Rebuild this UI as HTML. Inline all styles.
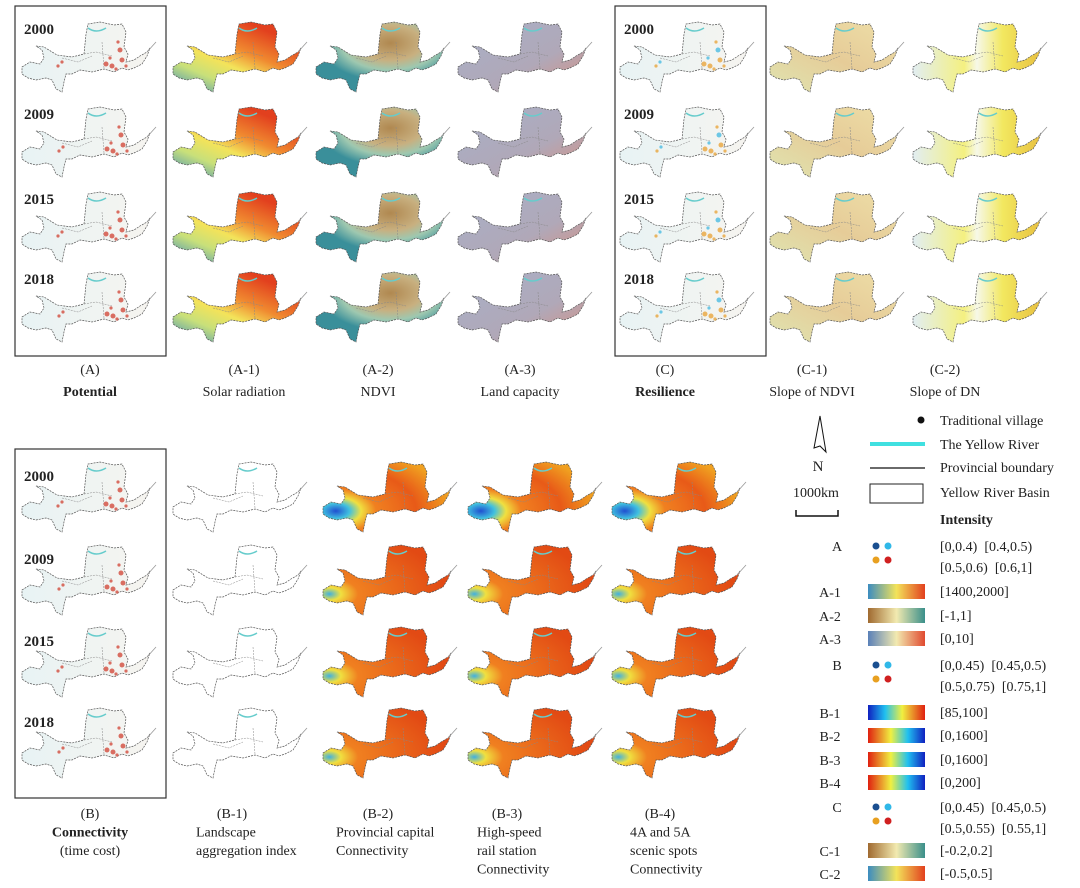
<!DOCTYPE html>
<html><head><meta charset="utf-8"><style>
html,body{margin:0;padding:0;background:#fff;}
svg{display:block;font-family:"Liberation Serif",serif;}
text{white-space:pre;}
</style></head><body>
<svg id="fig" width="1080" height="888" viewBox="0 0 1080 888" xmlns="http://www.w3.org/2000/svg">
<defs>
<path id="basin" d="M0,45 L8,40 L18,42 L22,36 L20,28 L14,24 L22,25 L35,33 L50,35 L62,32 L64,12 L66,2 L78,0 L92,3 L100,2 L104,10 L102,25 L106,32 L104,40 L112,38 L118,34 L125,30 L128,26 L125,34 L120,42 L112,46 L106,48 L100,46 L92,50 L82,47 L70,50 L58,48 L50,52 L44,52 L42,60 L40,70 L34,67 L30,58 L24,56 L14,58 L6,56 L0,52 Z"/>
<linearGradient id="gA1" x1="0" y1="1" x2="0.7" y2="0.1"><stop offset="0" stop-color="#3b8cc0"/><stop offset="0.3" stop-color="#c8e07a"/><stop offset="0.5" stop-color="#f3e35a"/><stop offset="0.7" stop-color="#f08a30"/><stop offset="1" stop-color="#e2401e"/></linearGradient>
<radialGradient id="gA2" cx="0.58" cy="0.3" r="0.55"><stop offset="0" stop-color="#b08850"/><stop offset="0.45" stop-color="#c8b080"/><stop offset="0.7" stop-color="#9ec8b0"/><stop offset="1" stop-color="#3a8f9a"/></radialGradient>
<linearGradient id="gA3" x1="0" y1="0" x2="1" y2="1"><stop offset="0" stop-color="#a8b0c8"/><stop offset="0.6" stop-color="#b0a8b8"/><stop offset="1" stop-color="#d89080"/></linearGradient>
<linearGradient id="gC1" x1="0" y1="1" x2="1" y2="0"><stop offset="0" stop-color="#dfe4b0"/><stop offset="0.5" stop-color="#e6cc98"/><stop offset="1" stop-color="#eedfa8"/></linearGradient>
<linearGradient id="gC2" x1="0" y1="0" x2="1" y2="0"><stop offset="0" stop-color="#e2eef2"/><stop offset="0.4" stop-color="#f4f080"/><stop offset="0.5" stop-color="#f6f8e8"/><stop offset="0.7" stop-color="#f2e860"/><stop offset="1" stop-color="#e8c040"/></linearGradient>
<radialGradient id="gB2" cx="0.1" cy="0.7" r="0.9"><stop offset="0" stop-color="#2050d0"/><stop offset="0.12" stop-color="#40c0e0"/><stop offset="0.22" stop-color="#f0e040"/><stop offset="0.35" stop-color="#f08020"/><stop offset="0.7" stop-color="#e85a18"/><stop offset="1" stop-color="#f0a020"/></radialGradient>
<radialGradient id="gB2b" cx="0.05" cy="0.7" r="0.9"><stop offset="0" stop-color="#40b0e0"/><stop offset="0.1" stop-color="#f0e040"/><stop offset="0.25" stop-color="#f08020"/><stop offset="1" stop-color="#e24a14"/></radialGradient>
<linearGradient id="gW" x1="0" y1="0" x2="1" y2="0"><stop offset="0" stop-color="#e8f3f4"/><stop offset="1" stop-color="#f6f4f0"/></linearGradient>
<linearGradient id="lA1" x1="0" x2="1"><stop offset="0" stop-color="#3b8cc0"/><stop offset="0.5" stop-color="#f3e35a"/><stop offset="1" stop-color="#e2401e"/></linearGradient>
<linearGradient id="lA2" x1="0" x2="1"><stop offset="0" stop-color="#a06a30"/><stop offset="0.5" stop-color="#f2eab0"/><stop offset="1" stop-color="#3a8f8a"/></linearGradient>
<linearGradient id="lA3" x1="0" x2="1"><stop offset="0" stop-color="#5a80b8"/><stop offset="0.5" stop-color="#f2eab0"/><stop offset="1" stop-color="#e04a30"/></linearGradient>
<linearGradient id="lB1" x1="0" x2="1"><stop offset="0" stop-color="#1020c0"/><stop offset="0.3" stop-color="#20c0f0"/><stop offset="0.6" stop-color="#f0f040"/><stop offset="1" stop-color="#e02010"/></linearGradient>
<linearGradient id="lB2" x1="1" x2="0"><stop offset="0" stop-color="#1020c0"/><stop offset="0.3" stop-color="#20c0f0"/><stop offset="0.6" stop-color="#f0f040"/><stop offset="1" stop-color="#e02010"/></linearGradient>
</defs>
<g id="maps"></g>
<g id="texts"></g>
<g id="legend"></g>
</svg>
<script>
const NS="http://www.w3.org/2000/svg";
const years=["2000","2009","2015","2018"];
const topCols=[{id:"A",x:22,f:"url(#gW)",d:"red"},{id:"A-1",x:173,f:"url(#gA1)"},{id:"A-2",x:316,f:"url(#gA2)"},{id:"A-3",x:458,f:"url(#gA3)"},{id:"C",x:620,f:"url(#gW)",d:"orange"},{id:"C-1",x:770,f:"url(#gC1)"},{id:"C-2",x:913,f:"url(#gC2)"}];
const topRows=[22,107,192,272];
const botCols=[{id:"B",x:22,f:"url(#gW)",d:"red"},{id:"B-1",x:173,f:"#fff"},{id:"B-2",x:323,f:"url(#gB2)",alt:"url(#gB2b)"},{id:"B-3",x:468,f:"url(#gB2)",alt:"url(#gB2b)"},{id:"B-4",x:612,f:"url(#gB2)",alt:"url(#gB2b)"}];
const botRows=[462,545,627,708];
const topLabels=[["(A)","Potential"],["(A-1)","Solar radiation"],["(A-2)","NDVI"],["(A-3)","Land capacity"],["(C)","Resilience"],["(C-1)","Slope of NDVI"],["(C-2)","Slope of DN"]];
const topLabelX=[90,244,378,520,665,812,945];
const botLabels=[["(B)","Connectivity","(time cost)"],["(B-1)","Landscape","aggregation index"],["(B-2)","Provincial capital","Connectivity"],["(B-3)","High-speed","rail station","Connectivity"],["(B-4)","4A and 5A","scenic spots","Connectivity"]];
const botLabelX=[90,232,378,507,660];
const botLabelLeft=[null,196,336,477,630];
const hot=[[100,38],[98,28],[90,44],[84,42],[40,40],[96,20],[104,44],[88,36],[36,44],[94,47]];
const maps=document.getElementById('maps'),texts=document.getElementById('texts'),leg=document.getElementById('legend');
function mk(t,a,p){const e=document.createElementNS(NS,t);for(const k in a)e.setAttribute(k,a[k]);(p||maps).appendChild(e);return e;}
function txt(s,x,y,o,p){o=o||{};const e=mk('text',{x:x,y:y,'font-size':o.fs||14,'text-anchor':o.a||'middle','font-weight':o.b?'bold':'normal',fill:'#222'},p||texts);e.textContent=s;return e;}
function drawMap(c,x,y,ri){
  const g=mk('g',{transform:`translate(${x},${y})`});
  
  
  mk('use',{href:'#basin',fill:(ri>0&&c.alt)?c.alt:c.f,stroke:'#555','stroke-width':0.7,'stroke-dasharray':'2,1'},g);
  mk('path',{d:'M125,30 L134,20',stroke:'#999','stroke-width':0.8},g);
  mk('path',{d:'M40,36 L56,40 L70,34 M80,20 L82,46 M62,32 L74,30 L90,34',stroke:'#888',fill:'none','stroke-width':0.5,'stroke-dasharray':'2,1'},g);
  mk('path',{d:'M66,6 Q74,12 84,6',stroke:'#6cc',fill:'none','stroke-width':1.5},g);
  if(c.d){hot.forEach((h,i)=>{mk('circle',{cx:h[0]+(ri%2),cy:h[1],r:i<4?2.5:1.6,fill:i%3==1&&c.d=='orange'?'#40b8e0':(c.d=='red'?'#d04030':'#e8a030'),opacity:0.75},g);});}
}
topCols.forEach(c=>topRows.forEach((y,ri)=>drawMap(c,c.x,y,ri)));
botCols.forEach(c=>botRows.forEach((y,ri)=>drawMap(c,c.x,y,ri)));
[[15,6,151,350,'box-potential'],[615,6,151,350,'box-resilience'],[15,449,151,349,'box-connectivity']].forEach(b=>{
  const r=mk('rect',{x:b[0],y:b[1],width:b[2],height:b[3],fill:'none',stroke:'#333','stroke-width':1.2});
  
  
});
topRows.forEach((y,i)=>{txt(years[i],24,y+12,{a:'start',b:true,fs:15});txt(years[i],624,y+12,{a:'start',b:true,fs:15});});
botRows.forEach((y,i)=>txt(years[i],24,y+19,{a:'start',b:true,fs:15}));
topLabels.forEach((l,i)=>{txt(l[0],topLabelX[i],374,{});txt(l[1],topLabelX[i],396,{b:i==0||i==4});});
botLabels.forEach((l,i)=>{l.forEach((s,j)=>{
  if(j==0||botLabelLeft[i]===null) txt(s,botLabelX[i],818+j*18.5,{b:i==0&&j==1});
  else txt(s,botLabelLeft[i],818+j*18.5,{a:'start'});
});});
mk('path',{d:'M814,448 L820,416 L826,452 L820,446 Z',fill:'#fff',stroke:'#111','stroke-width':1},leg);
txt('N',818,471,{fs:15},leg);
txt('1000km',816,497,{fs:14},leg);
mk('path',{d:'M796,510 V516 H838 V510',fill:'none',stroke:'#111','stroke-width':1.5},leg);
mk('circle',{cx:921,cy:420,r:3.5,fill:'#111'},leg);
mk('line',{x1:870,y1:444,x2:925,y2:444,stroke:'#40e0e0','stroke-width':4},leg);
mk('line',{x1:870,y1:468,x2:925,y2:468,stroke:'#111','stroke-width':1.2},leg);
mk('rect',{x:870,y:484,width:53,height:19,fill:'#fff',stroke:'#222','stroke-width':1},leg);
[['Traditional village',425],['The Yellow River',449],['Provincial boundary',472],['Yellow River Basin',497]].forEach(t=>txt(t[0],940,t[1],{a:'start'},leg));
txt('Intensity',940,524,{a:'start',b:true},leg);
const dotRows=[['A',546,['[0,0.4)  [0.4,0.5)','[0.5,0.6)  [0.6,1]']],['B',665,['[0,0.45)  [0.45,0.5)','[0.5,0.75)  [0.75,1]']],['C',807,['[0,0.45)  [0.45,0.5)','[0.5,0.55)  [0.55,1]']]];
dotRows.forEach(d=>{txt(d[0],837,d[1]+5,{},leg);
  [['#1a4f90',876,d[1]],['#30b8e8',888,d[1]],['#e8a020',876,d[1]+14],['#d02020',888,d[1]+14]].forEach(p=>mk('circle',{cx:p[1],cy:p[2],r:3.5,fill:p[0]},leg));
  txt(d[2][0],940,d[1]+5,{a:'start'},leg);txt(d[2][1],940,d[1]+26,{a:'start'},leg);});
const bars=[['A-1',591,'url(#lA1)','[1400,2000]'],['A-2',615,'url(#lA2)','[-1,1]'],['A-3',638,'url(#lA3)','[0,10]'],['B-1',712,'url(#lB1)','[85,100]'],['B-2',735,'url(#lB2)','[0,1600]'],['B-3',759,'url(#lB2)','[0,1600]'],['B-4',782,'url(#lB2)','[0,200]'],['C-1',850,'url(#lA2)','[-0.2,0.2]'],['C-2',873,'url(#lA1)','[-0.5,0.5]']];
bars.forEach(b=>{txt(b[0],830,b[1]+6,{},leg);
  const r=mk('rect',{x:868,y:b[1]-7,width:57,height:15,fill:b[2]},leg);
  
  
  txt(b[3],940,b[1]+5,{a:'start'},leg);});
</script>
</body></html>
